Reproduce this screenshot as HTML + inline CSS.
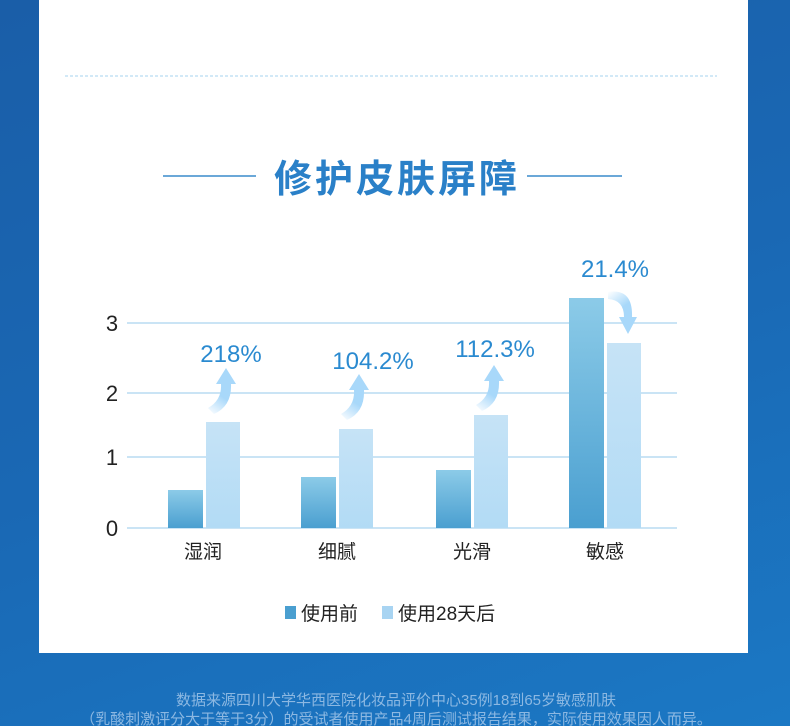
<!DOCTYPE html>
<html><head><meta charset="utf-8"><style>
html,body{margin:0;padding:0;width:790px;height:726px;overflow:hidden}
body{background:linear-gradient(160deg,#1a5ea8 0%,#1a68b4 50%,#1b78c4 100%);font-family:"Liberation Sans","Noto Sans CJK SC",sans-serif}
svg{position:absolute;left:0;top:0}
</style></head><body>
<svg width="790" height="726" viewBox="0 0 790 726" xmlns="http://www.w3.org/2000/svg" font-family="Liberation Sans, Noto Sans CJK SC, sans-serif">
<defs>
<linearGradient id="b1" x1="0" y1="0" x2="0" y2="1"><stop offset="0" stop-color="#8ccbe8"/><stop offset="1" stop-color="#4a9fd0"/></linearGradient>
<linearGradient id="b2" x1="0" y1="0" x2="0" y2="1"><stop offset="0" stop-color="#c6e3f6"/><stop offset="1" stop-color="#b2dbf5"/></linearGradient>
<linearGradient id="au" x1="0" y1="1" x2="0.4" y2="0"><stop offset="0" stop-color="#a8d8fa" stop-opacity="0"/><stop offset="0.5" stop-color="#a8d8fa"/><stop offset="1" stop-color="#a8d8fa"/></linearGradient>
<linearGradient id="ad" x1="0" y1="0" x2="0.5" y2="1"><stop offset="0" stop-color="#a8d8fa" stop-opacity="0"/><stop offset="0.5" stop-color="#a8d8fa"/><stop offset="1" stop-color="#a8d8fa"/></linearGradient>
</defs>
<rect x="39" y="0" width="709" height="653" fill="#fff"/>
<line x1="65" y1="76" x2="717" y2="76" stroke="#b8dcf2" stroke-width="1.2" stroke-dasharray="3,2"/>
<line x1="163" y1="176" x2="256" y2="176" stroke="#3a8ccc" stroke-width="1.5"/>
<line x1="527" y1="176" x2="622" y2="176" stroke="#3a8ccc" stroke-width="1.5"/>
<text x="397" y="192" text-anchor="middle" font-size="38" font-weight="bold" fill="#2a80c8" letter-spacing="3">修护皮肤屏障</text>
<g stroke="#b8dcf2" stroke-width="1.5">
<line x1="127" y1="323" x2="677" y2="323"/><line x1="127" y1="393" x2="677" y2="393"/><line x1="127" y1="457" x2="677" y2="457"/><line x1="127" y1="528" x2="677" y2="528"/>
</g>
<g font-size="22" fill="#222" text-anchor="middle">
<text x="112" y="331">3</text><text x="112" y="401">2</text><text x="112" y="465">1</text><text x="112" y="536">0</text>
</g>
<rect x="168" y="490" width="35" height="38" fill="url(#b1)"/>
<rect x="206" y="422" width="34" height="106" fill="url(#b2)"/>
<rect x="301" y="477" width="35" height="51" fill="url(#b1)"/>
<rect x="339" y="429" width="34" height="99" fill="url(#b2)"/>
<rect x="436" y="470" width="35" height="58" fill="url(#b1)"/>
<rect x="474" y="415" width="34" height="113" fill="url(#b2)"/>
<rect x="569" y="298" width="35" height="230" fill="url(#b1)"/>
<rect x="607" y="343" width="34" height="185" fill="url(#b2)"/>
<g fill="url(#au)">
<path d="M208,408 Q222,400 221,384 L216,384 L226,368 L236,384 L231,384 Q232,406 214,414 Z"/>
<path d="M341,414 Q355,406 354,390 L349,390 L359,374 L369,390 L364,390 Q365,412 347,420 Z"/>
<path d="M476,405 Q490,397 489,381 L484,381 L494,365 L504,381 L499,381 Q500,403 482,411 Z"/>
</g>
<path fill="url(#ad)" d="M608,292 Q633,288 632,317 L637,317 L628,334 L619,317 L624,317 Q624,300 608,299 Z"/>
<g font-size="24" fill="#2a8ad0" text-anchor="middle">
<text x="231" y="362">218%</text><text x="373" y="369">104.2%</text><text x="495" y="357">112.3%</text><text x="615" y="277">21.4%</text>
</g>
<g font-size="19" fill="#222" text-anchor="middle">
<text x="203" y="558">湿润</text><text x="337" y="558">细腻</text><text x="472" y="558">光滑</text><text x="605" y="558">敏感</text>
</g>
<rect x="285" y="606" width="11" height="13" fill="#4a9fd0"/>
<text x="301" y="620" font-size="19" fill="#222">使用前</text>
<rect x="382" y="606" width="11" height="13" fill="#a8d4f2"/>
<text x="398" y="620" font-size="19" fill="#222">使用28天后</text>
<g font-size="15" fill="#8cb8e2" text-anchor="middle">
<text x="396" y="705">数据来源四川大学华西医院化妆品评价中心35例18到65岁敏感肌肤</text>
<text x="396" y="724">（乳酸刺激评分大于等于3分）的受试者使用产品4周后测试报告结果，实际使用效果因人而异。</text>
</g>
</svg>
</body></html>
